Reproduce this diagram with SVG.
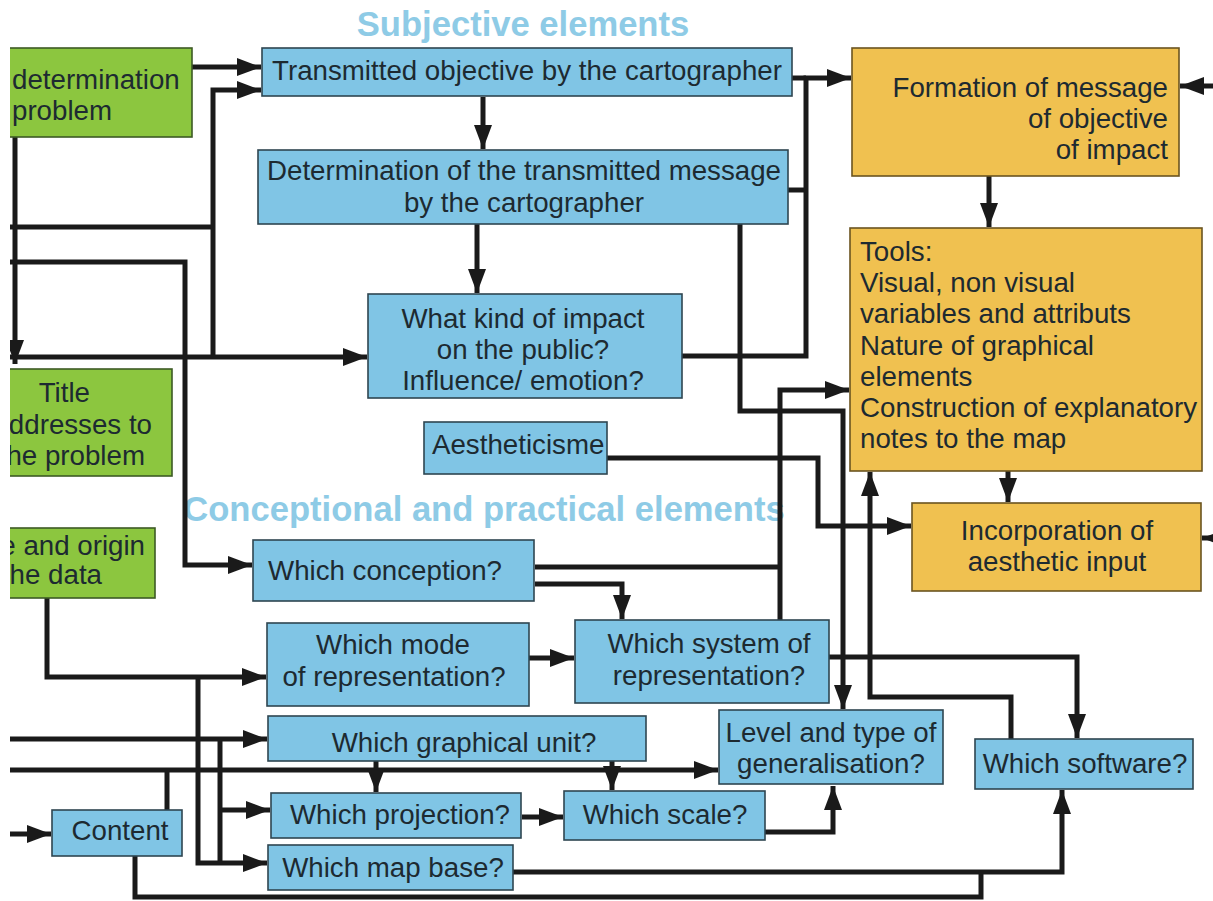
<svg xmlns="http://www.w3.org/2000/svg" width="1213" height="901" viewBox="0 0 1213 901">
  <style>
    .blue { fill: #80c5e5; stroke: #2e4550; stroke-width: 1.6; }
    .green { fill: #8cc63f; stroke: #3d5a25; stroke-width: 1.6; }
    .orange { fill: #f0c150; stroke: #6b5420; stroke-width: 1.6; }
    .t { font-family: "Liberation Sans", Arial, sans-serif; font-size: 27.7px; fill: #1d2a31; }
    .c { text-anchor: middle; }
    .e { text-anchor: end; }
    .head { font-family: "Liberation Sans", Arial, sans-serif; font-weight: bold; font-size: 34.6px; fill: #8ecbe6; text-anchor: middle; }
    .wire { fill: none; stroke: #1a1a1a; stroke-width: 5; stroke-linejoin: miter; }
    .arr { marker-end: url(#ah); }
  </style>
  <defs>
    <marker id="ah" markerUnits="userSpaceOnUse" markerWidth="26" markerHeight="20" refX="24" refY="10" orient="auto">
      <path d="M0,1 L24,10 L0,19 z" fill="#1a1a1a"/>
    </marker>
    <clipPath id="page">
      <rect x="10" y="0" width="1203" height="901"/>
    </clipPath>
  </defs>
  <rect width="1213" height="901" fill="#ffffff"/>

  <g clip-path="url(#page)">
    <!-- section headings -->
    <text class="head" x="523" y="36">Subjective elements</text>
    <text class="head" x="484" y="521">Conceptional and practical elements</text>

    <!-- connectors -->
    <g id="connectors" class="wire">
      <path class="arr" d="M192,67 H261"/>
      <path class="arr" d="M213,357 V90 H261"/>
      <path d="M5,227 H213"/>
      <path class="arr" d="M5,262 H185 V565 H252"/>
      <path class="arr" d="M15,137 V364"/>
      <path class="arr" d="M5,357 H367"/>
      <path class="arr" d="M483,97 V149"/>
      <path class="arr" d="M477,224 V293"/>
      <path class="arr" d="M682,356 H806 V78 H851"/>
      <path d="M792,78 H806"/>
      <path d="M788,190 H806"/>
      <path class="arr" d="M740,224 V411 H843 V709"/>
      <path d="M535,567 H780"/>
      <path class="arr" d="M780,620 V390 H849"/>
      <path class="arr" d="M535,584 H622 V619"/>
      <path class="arr" d="M607,458 H818 V526 H911"/>
      <path class="arr" d="M1011,739 V697 H870 V472"/>
      <path class="arr" d="M1008,471 V502"/>
      <path class="arr" d="M989,176 V227"/>
      <path class="arr" d="M1230,86 H1180"/>
      <path class="arr" d="M1230,538 H1202"/>
      <path class="arr" d="M829,657 H1077 V738"/>
      <path class="arr" d="M529,658 H574"/>
      <path class="arr" d="M522,817 H563"/>
      <path class="arr" d="M765,832 H833 V786"/>
      <path class="arr" d="M513,872 H1062 V790"/>
      <path d="M135,856 V897 H981 V872"/>
      <path class="arr" d="M47,598 V677 H266"/>
      <path class="arr" d="M198,677 V863 H267"/>
      <path class="arr" d="M5,739 H267"/>
      <path d="M220,739 V863"/>
      <path class="arr" d="M220,810 H270"/>
      <path class="arr" d="M5,770 H718"/>
      <path d="M167,810 V770"/>
      <path class="arr" d="M376,761 V792"/>
      <path class="arr" d="M612,761 V790"/>
      <path class="arr" d="M5,834 H51"/>
    </g>

    <!-- green source boxes -->
    <g id="problem">
      <rect class="green" x="-20" y="48" width="212" height="89"/>
      <text class="t" x="12" y="89">determination</text>
      <text class="t" x="12" y="120">problem</text>
    </g>
    <g id="title">
      <rect class="green" x="-20" y="369" width="192" height="107"/>
      <text class="t e" x="90" y="402">Title</text>
      <text class="t e" x="152" y="434">ddresses to</text>
      <text class="t e" x="145" y="465">he problem</text>
    </g>
    <g id="data">
      <rect class="green" x="-20" y="528" width="175" height="70"/>
      <text class="t e" x="145" y="555">e and origin</text>
      <text class="t e" x="102" y="584">he data</text>
    </g>

    <!-- subjective elements -->
    <g id="objective">
      <rect class="blue" x="262" y="48" width="530" height="48"/>
      <text class="t c" x="527" y="80">Transmitted objective by the cartographer</text>
    </g>
    <g id="message">
      <rect class="blue" x="258" y="150" width="530" height="74"/>
      <text class="t c" x="524" y="180">Determination of the transmitted message</text>
      <text class="t c" x="524" y="212">by the cartographer</text>
    </g>
    <g id="impact">
      <rect class="blue" x="368" y="294" width="314" height="104"/>
      <text class="t c" x="523" y="328">What kind of impact</text>
      <text class="t c" x="523" y="359">on the public?</text>
      <text class="t c" x="523" y="390">Influence/ emotion?</text>
    </g>
    <g id="aestheticisme">
      <rect class="blue" x="424" y="422" width="183" height="52"/>
      <text class="t" x="432" y="454">Aestheticisme</text>
    </g>

    <!-- conceptional and practical elements -->
    <g id="conception">
      <rect class="blue" x="253" y="540" width="281" height="61"/>
      <text class="t" x="268" y="580">Which conception?</text>
    </g>
    <g id="mode">
      <rect class="blue" x="267" y="623" width="262" height="83"/>
      <text class="t c" x="393" y="654">Which mode</text>
      <text class="t c" x="394" y="686">of representation?</text>
    </g>
    <g id="system">
      <rect class="blue" x="575" y="620" width="254" height="83"/>
      <text class="t c" x="709" y="653">Which system of</text>
      <text class="t c" x="709" y="685">representation?</text>
    </g>
    <g id="graphical-unit">
      <rect class="blue" x="268" y="716" width="378" height="45"/>
      <text class="t c" x="464" y="752">Which graphical unit?</text>
    </g>
    <g id="generalisation">
      <rect class="blue" x="719" y="710" width="224" height="74"/>
      <text class="t c" x="831" y="742">Level and type of</text>
      <text class="t c" x="831" y="773">generalisation?</text>
    </g>
    <g id="projection">
      <rect class="blue" x="271" y="793" width="250" height="45"/>
      <text class="t c" x="400" y="824">Which projection?</text>
    </g>
    <g id="scale">
      <rect class="blue" x="564" y="791" width="201" height="49"/>
      <text class="t c" x="665" y="824">Which scale?</text>
    </g>
    <g id="map-base">
      <rect class="blue" x="268" y="845" width="245" height="45"/>
      <text class="t c" x="393" y="877">Which map base?</text>
    </g>
    <g id="content">
      <rect class="blue" x="52" y="810" width="130" height="46"/>
      <text class="t c" x="120" y="840">Content</text>
    </g>
    <g id="software">
      <rect class="blue" x="975" y="739" width="218" height="50"/>
      <text class="t c" x="1085" y="773">Which software?</text>
    </g>

    <!-- outcomes -->
    <g id="formation">
      <rect class="orange" x="852" y="48" width="327" height="128"/>
      <text class="t e" x="1168" y="97">Formation of message</text>
      <text class="t e" x="1168" y="128">of objective</text>
      <text class="t e" x="1168" y="159">of impact</text>
    </g>
    <g id="tools">
      <rect class="orange" x="850" y="228" width="352" height="243"/>
      <text class="t" x="860" y="261">Tools:</text>
      <text class="t" x="860" y="292">Visual, non visual</text>
      <text class="t" x="860" y="323">variables and attributs</text>
      <text class="t" x="860" y="355">Nature of graphical</text>
      <text class="t" x="860" y="386">elements</text>
      <text class="t" x="860" y="417">Construction of explanatory</text>
      <text class="t" x="860" y="448">notes to the map</text>
    </g>
    <g id="incorporation">
      <rect class="orange" x="912" y="503" width="289" height="88"/>
      <text class="t c" x="1057" y="540">Incorporation of</text>
      <text class="t c" x="1057" y="571">aesthetic input</text>
    </g>
  </g>
</svg>
